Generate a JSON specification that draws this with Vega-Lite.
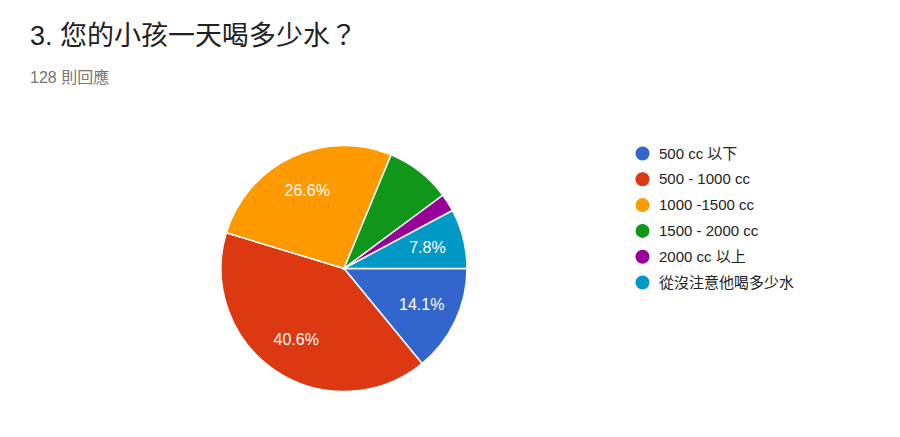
{
  "$schema": "https://vega.github.io/schema/vega-lite/v6.json",
  "autosize": {"type": "none"},
  "padding": {"left": 30, "top": 100, "right": 242, "bottom": 0},
  "width": 628,
  "height": 337,
  "background": "white",
  "title": {
    "text": "3. 您的小孩一天喝多少水？",
    "subtitle": "128 則回應",
    "anchor": "start",
    "frame": "group",
    "font": "Liberation Sans, Noto Sans CJK TC",
    "fontSize": 27,
    "fontWeight": "normal",
    "color": "#202124",
    "subtitleFont": "Liberation Sans, Noto Sans CJK TC",
    "subtitleFontSize": 16,
    "subtitleColor": "#757575",
    "subtitlePadding": 19,
    "offset": 13
  },
  "data": {
    "values": [
      {"idx": 1, "answer": "500 cc 以下", "count": 18, "label": "14.1%"},
      {"idx": 2, "answer": "500 - 1000 cc", "count": 52, "label": "40.6%"},
      {"idx": 3, "answer": "1000 -1500 cc", "count": 34, "label": "26.6%"},
      {"idx": 4, "answer": "1500 - 2000 cc", "count": 11, "label": ""},
      {"idx": 5, "answer": "2000 cc 以上", "count": 3, "label": ""},
      {"idx": 6, "answer": "從沒注意他喝多少水", "count": 10, "label": "7.8%"}
    ]
  },
  "encoding": {
    "theta": {"field": "count", "type": "quantitative", "stack": true, "scale": {"range": [1.5708, 7.854]}},
    "order": {"field": "idx", "type": "quantitative"}
  },
  "layer": [
    {
      "mark": {"type": "arc", "outerRadius": 123, "stroke": "white", "strokeWidth": 1.5},
      "encoding": {
        "color": {
          "field": "answer",
          "type": "nominal",
          "sort": ["500 cc 以下", "500 - 1000 cc", "1000 -1500 cc", "1500 - 2000 cc", "2000 cc 以上", "從沒注意他喝多少水"],
          "scale": {
            "domain": ["500 cc 以下", "500 - 1000 cc", "1000 -1500 cc", "1500 - 2000 cc", "2000 cc 以上", "從沒注意他喝多少水"],
            "range": ["#3366cc", "#dc3912", "#ff9900", "#109618", "#990099", "#0099c6"]
          },
          "legend": {
            "title": null,
            "orient": "none",
            "legendX": 605,
            "legendY": 46,
            "symbolType": "circle",
            "symbolSize": 196,
            "symbolStrokeWidth": 0,
            "labelFont": "Liberation Sans, Noto Sans CJK TC",
            "labelFontSize": 15,
            "labelColor": "#222222",
            "labelLimit": 400,
            "labelOffset": 9,
            "rowPadding": 9.8
          }
        }
      }
    },
    {
      "mark": {"type": "text", "radius": 86, "fill": "white", "fontSize": 16, "font": "Liberation Sans, Noto Sans CJK TC"},
      "encoding": {
        "text": {"field": "label", "type": "nominal"}
      }
    }
  ]
}
